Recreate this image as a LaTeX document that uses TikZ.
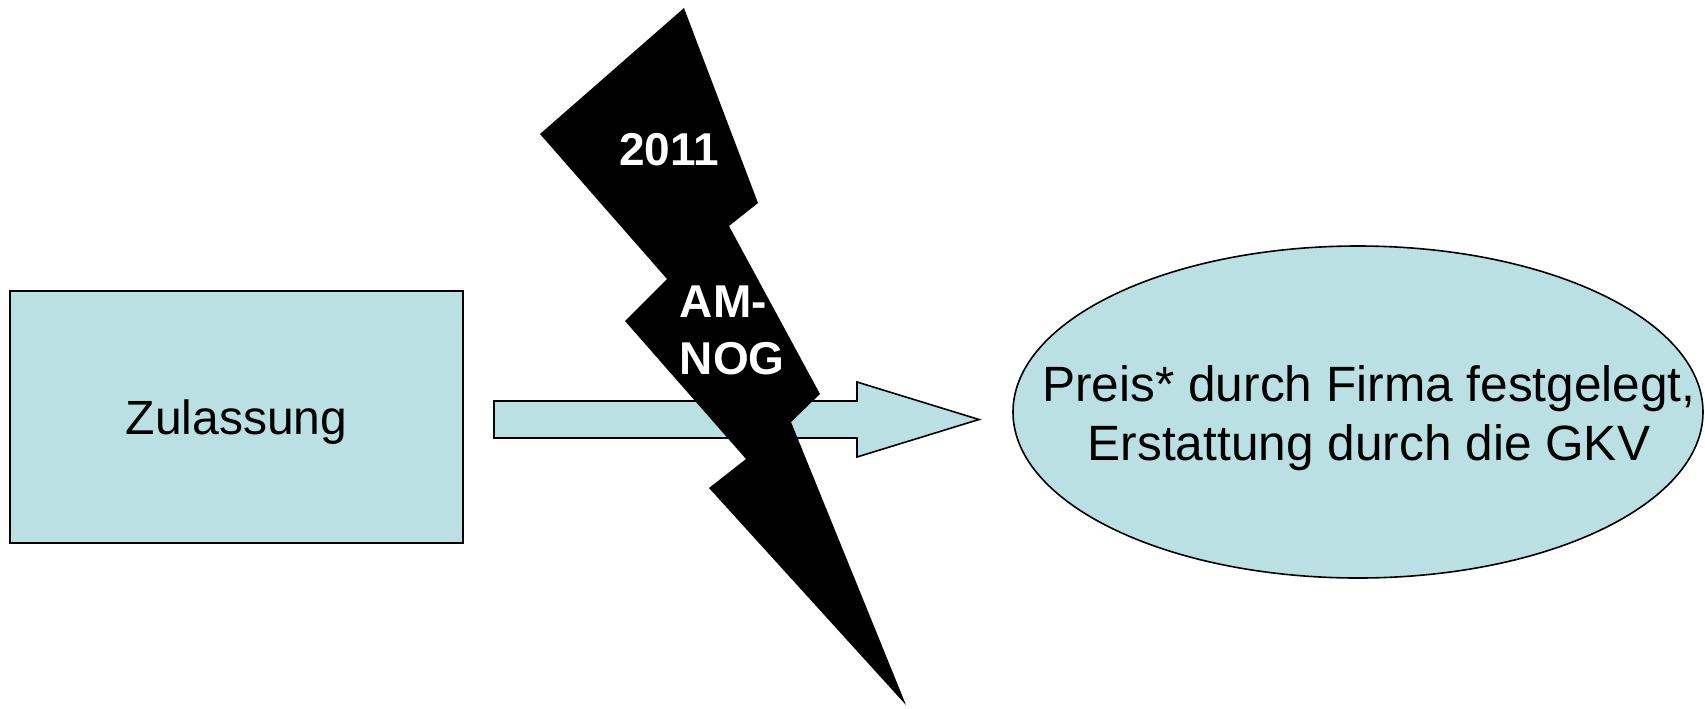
\documentclass[tikz,border=0pt]{standalone}
\usepackage{fontspec}
\setmainfont{Liberation Sans}
\usetikzlibrary{shapes.geometric}
\definecolor{hellblau}{RGB}{187,224,227}
\begin{document}
\begin{tikzpicture}[x=0.5pt,y=-0.5pt,line width=0.8pt,
    kasten/.style={draw=black,fill=hellblau,inner sep=0pt},
    textgross/.style={font=\fontsize{24}{28.3}\selectfont},
    blitztext/.style={text=white,inner sep=0pt,font=\fontsize{23}{28.5}\selectfont\bfseries}]
  \useasboundingbox (0,0) rectangle (1705,708);
  % Zulassung
  \node[kasten,textgross,text depth=0pt,minimum width=226.5pt,minimum height=126pt] (zul) at (236.5,417) {Zulassung};
  % Pfeil
  \draw[fill=hellblau] (494,401) -- (857,401) -- (857,382) -- (979,419.5) -- (857,457)
    -- (857,438) -- (494,438) -- cycle;
  % Preis
  \node[kasten,ellipse,minimum width=345pt,minimum height=166pt] (preis) at (1358,412) {};
  \node[align=center,font=\fontsize{24.8}{29.5}\selectfont] (preistxt) at (1369,418)
    {Preis* durch Firma festgelegt,\\Erstattung durch die GKV};
  % Blitz
  \fill[black] (684,8) -- (758,203) -- (729,226) -- (820,394) -- (791,422) -- (906,705)
    -- (709,488) -- (746,459) -- (625,321) -- (667,279) -- (540,134) -- cycle;
  \node[blitztext] (jahr) at (669,150) {2011};
  \node[blitztext,align=left,anchor=west] (amnog) at (679,330) {AM-\\NOG};
\end{tikzpicture}
\end{document}
